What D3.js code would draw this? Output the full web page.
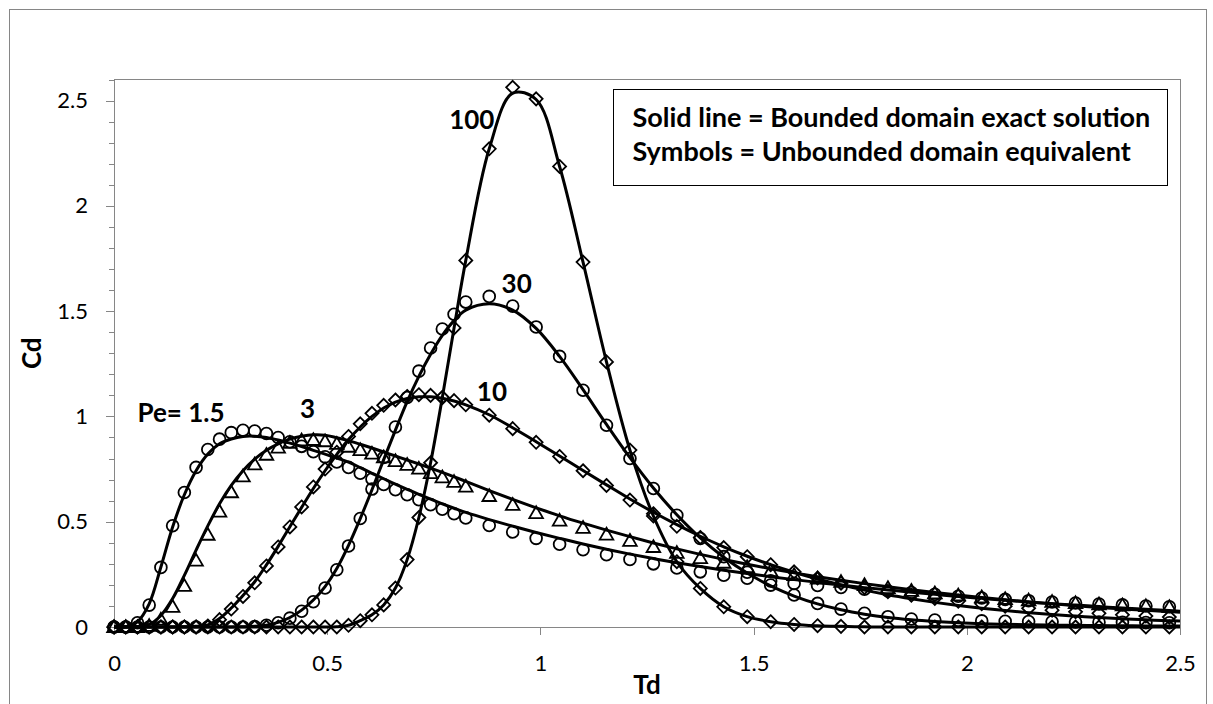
<!DOCTYPE html>
<html>
<head>
<meta charset="utf-8">
<script src="https://cdn.jsdelivr.net/npm/d3@7"></script>
<style>
body { margin:0; background:#fff; }
text { font-family: Lato, "Open Sans", sans-serif; }
.axis path, .axis line { stroke:#868686; stroke-width:1px; shape-rendering:crispEdges; }
.axis text { font-size:22px; fill:#000; font-family: Lato, "Open Sans", sans-serif; }
.curve-label { font-weight:bold; font-size:26px; fill:#000; }
.axis-title { font-weight:bold; font-size:26px; fill:#000; }
.legend-text { font-weight:bold; font-size:27px; fill:#000; }
.exact { fill:none; stroke:#000; stroke-width:3px; }
.symbol { fill:none; stroke:#000; stroke-width:1.8px; }
</style>
</head>
<body>
<script>
// DATA
var tdMarkers = [0, 0.0275, 0.055, 0.0825, 0.11, 0.1375, 0.165, 0.1925, 0.22, 0.2475, 0.275, 0.3025, 0.33, 0.3575, 0.385, 0.4125, 0.44, 0.4675, 0.495, 0.5225, 0.55, 0.5775, 0.605, 0.6325, 0.66, 0.6875, 0.715, 0.7425, 0.77, 0.7975, 0.825,
    0.88, 0.935, 0.99, 1.045, 1.1, 1.155, 1.21, 1.265, 1.32, 1.375, 1.43, 1.485, 1.54, 1.595, 1.65, 1.705, 1.76, 1.815, 1.87, 1.925, 1.98, 2.035, 2.09, 2.145, 2.2, 2.255, 2.31, 2.365, 2.42, 2.475]
var tdLine = [0, 0.0275, 0.055, 0.0825, 0.11, 0.1375, 0.165, 0.1925, 0.22, 0.2475, 0.275, 0.3025, 0.33, 0.3575, 0.385, 0.4125, 0.44, 0.4675, 0.495, 0.5225, 0.55, 0.5775, 0.605, 0.6325, 0.66, 0.6875, 0.715, 0.7425, 0.77, 0.7975, 0.825,
    0.88, 0.935, 0.99, 1.045, 1.1, 1.155, 1.21, 1.265, 1.32, 1.375, 1.43, 1.485, 1.54, 1.595, 1.65, 1.705, 1.76, 1.815, 1.87, 1.925, 1.98, 2.035, 2.09, 2.145, 2.2, 2.255, 2.31, 2.365, 2.42, 2.475, 2.5]

// Pe = 1.5
var pe15Marks = [0, 0, 0.02, 0.104, 0.283, 0.481, 0.639, 0.758, 0.843, 0.892, 0.923,
    0.934, 0.931, 0.919, 0.900, 0.880, 0.858, 0.832, 0.808, 0.784, 0.758,
    0.730, 0.703, 0.677, 0.652, 0.628, 0.604, 0.581, 0.559, 0.538, 0.518,
    0.482, 0.451, 0.421, 0.393, 0.367, 0.343, 0.321, 0.300, 0.280, 0.262,
    0.246, 0.232, 0.219, 0.207, 0.197, 0.188, 0.179, 0.171, 0.164, 0.155,
    0.146, 0.138, 0.131, 0.125, 0.119, 0.114, 0.109, 0.105, 0.100, 0.096]
var pe15Line = [0, 0.001, 0.025, 0.11, 0.285, 0.475, 0.628, 0.742, 0.821,
    0.870, 0.893, 0.905, 0.906, 0.900,
    0.888, 0.873, 0.857, 0.839, 0.821, 0.802, 0.783, 0.757, 0.730, 0.704, 0.678, 0.654, 0.630, 0.607, 0.585, 0.564, 0.544,
    0.510, 0.479, 0.449, 0.421, 0.394, 0.369, 0.346, 0.325, 0.305, 0.287,
    0.270, 0.254, 0.239, 0.225, 0.212, 0.199, 0.187, 0.176, 0.165, 0.155,
    0.145, 0.136, 0.127, 0.119, 0.111, 0.104, 0.097, 0.090, 0.084, 0.078, 0.075]

// Pe = 3
var pe3Marks = [0, 0, 0, 0.005, 0.035, 0.096, 0.195, 0.315, 0.438, 0.548, 0.640,
    0.715, 0.772, 0.818, 0.852, 0.874, 0.886, 0.888, 0.882, 0.870, 0.856,
    0.840, 0.823, 0.806, 0.788, 0.770, 0.752, 0.731, 0.711, 0.689, 0.667,
    0.622, 0.580, 0.541, 0.505, 0.471, 0.439, 0.409, 0.380, 0.352, 0.327,
    0.305, 0.284, 0.265, 0.247, 0.230, 0.214, 0.199, 0.185, 0.172, 0.160,
    0.150, 0.141, 0.133, 0.126, 0.119, 0.113, 0.108, 0.103, 0.099, 0.095]
var pe3Line = [0, 0, 0.002, 0.012, 0.055, 0.135, 0.245, 0.365, 0.480, 0.585, 0.672,
    0.742, 0.797, 0.839, 0.870, 0.892, 0.906, 0.913, 0.911, 0.899, 0.885,
    0.868, 0.850, 0.831, 0.812, 0.793, 0.774, 0.754, 0.734, 0.713, 0.692,
    0.648, 0.606, 0.566, 0.528, 0.493, 0.460, 0.429, 0.399, 0.371, 0.345,
    0.321, 0.298, 0.277, 0.257, 0.239, 0.222, 0.206, 0.191, 0.177, 0.164,
    0.152, 0.140, 0.129, 0.119, 0.110, 0.101, 0.093, 0.086, 0.079, 0.073, 0.070]

// Pe = 10
var pe10Marks = [0, 0, 0, 0, 0, 0, 0, 0, 0.005, 0.035, 0.085,
    0.145, 0.21, 0.29, 0.38, 0.475, 0.57, 0.665, 0.75, 0.83, 0.905,
    0.965, 1.015, 1.053, 1.078, 1.095, 1.103, 1.100, 1.090, 1.075, 1.055,
    1.006, 0.942, 0.877, 0.810, 0.742, 0.672, 0.603, 0.538, 0.478, 0.425,
    0.377, 0.334, 0.296, 0.262, 0.233, 0.208, 0.187, 0.168, 0.151, 0.136,
    0.122, 0.110, 0.099, 0.089, 0.080, 0.072, 0.065, 0.058, 0.052, 0.047]
var pe10Line = [0, 0, 0, 0, 0, 0, 0.001, 0.003, 0.01, 0.04, 0.09,
    0.15, 0.215, 0.295, 0.383, 0.476, 0.568, 0.658, 0.742, 0.82, 0.89,
    0.95, 1.0, 1.04, 1.068, 1.085, 1.093, 1.093, 1.086, 1.073, 1.055,
    1.008, 0.946, 0.880, 0.812, 0.743, 0.675, 0.608, 0.545, 0.486, 0.431,
    0.381, 0.336, 0.296, 0.260, 0.228, 0.200, 0.175, 0.153, 0.134, 0.117,
    0.102, 0.089, 0.078, 0.068, 0.059, 0.052, 0.045, 0.039, 0.034, 0.030, 0.028]

// Pe = 30
var pe30Marks = [0, 0, 0, 0, 0, 0, 0, 0, 0, 0, 0,
    0, 0.002, 0.008, 0.02, 0.042, 0.075, 0.12, 0.185, 0.272, 0.385,
    0.515, 0.655, 0.805, 0.950, 1.09, 1.215, 1.325, 1.415, 1.485, 1.543,
    1.570, 1.524, 1.425, 1.285, 1.124, 0.958, 0.800, 0.658, 0.531, 0.420,
    0.334, 0.260, 0.199, 0.152, 0.112, 0.085, 0.065, 0.049, 0.038, 0.033,
    0.031, 0.029, 0.027, 0.026, 0.025, 0.024, 0.023, 0.022, 0.021, 0.020]
var pe30Line = [0, 0, 0, 0, 0, 0, 0, 0, 0, 0, 0,
    0.001, 0.003, 0.009, 0.022, 0.045, 0.08, 0.128, 0.192, 0.278, 0.388,
    0.515, 0.652, 0.795, 0.935, 1.07, 1.19, 1.295, 1.385, 1.455, 1.505,
    1.535, 1.505, 1.418, 1.285, 1.127, 0.962, 0.804, 0.660, 0.533, 0.423,
    0.331, 0.256, 0.195, 0.147, 0.110, 0.082, 0.061, 0.045, 0.034, 0.026,
    0.020, 0.016, 0.013, 0.011, 0.009, 0.008, 0.007, 0.006, 0.005, 0.005, 0.005]

// Pe = 100
var pe100Marks = [0, 0, 0, 0, 0, 0, 0, 0, 0, 0, 0,
    0, 0, 0, 0, 0, 0, 0, 0, 0, 0.008,
    0.03, 0.058, 0.105, 0.185, 0.32, 0.52, 0.78, 1.09, 1.42, 1.741,
    2.271, 2.563, 2.508, 2.187, 1.733, 1.259, 0.84, 0.527, 0.31, 0.183,
    0.096, 0.049, 0.025, 0.012, 0.006, 0.003, 0, 0, 0, 0,
    0, 0, 0, 0, 0, 0, 0, 0, 0, 0]
var pe100Line = [0, 0, 0, 0, 0, 0, 0, 0, 0, 0, 0,
    0, 0, 0, 0, 0, 0, 0, 0, 0.001, 0.008,
    0.03, 0.058, 0.105, 0.185, 0.32, 0.52, 0.78, 1.09, 1.42, 1.741,
    2.271, 2.535, 2.505, 2.187, 1.733, 1.259, 0.84, 0.527, 0.31, 0.183,
    0.096, 0.049, 0.025, 0.012, 0.006, 0.003, 0.001, 0, 0, 0,
    0, 0, 0, 0, 0, 0, 0, 0, 0, 0, 0]

var xTicks = [0, 0.5, 1, 1.5, 2, 2.5]
var yTicks = [0, 0.5, 1, 1.5, 2, 2.5]
var yMinorTicks = [0, 0.1, 0.2, 0.3, 0.4, 0.5, 0.6, 0.7, 0.8, 0.9, 1, 1.1, 1.2, 1.3, 1.4, 1.5, 1.6, 1.7, 1.8, 1.9, 2, 2.1, 2.2, 2.3, 2.4, 2.5, 2.6]

var curveLabels = [
    {text:"Pe= 1.5", td:0.055, cd:0.972},
    {text:"3", td:0.436, cd:0.991},
    {text:"10", td:0.851, cd:1.073},
    {text:"30", td:0.909, cd:1.584},
    {text:"100", td:0.786, cd:2.367}
]
var legendLines = ["Solid line = Bounded domain exact solution", "Symbols = Unbounded domain equivalent"]

var series = [
    {line:pe15Line, marks:pe15Marks, shape:"circle"},
    {line:pe3Line, marks:pe3Marks, shape:"triangle"},
    {line:pe10Line, marks:pe10Marks, shape:"diamond"},
    {line:pe30Line, marks:pe30Marks, shape:"circle"},
    {line:pe100Line, marks:pe100Marks, shape:"diamond"}
]

// LAYOUT
var width = 1213
var height = 704
var plot = {left:114, right:1180, top:79.5, bottom:627}

var x = d3.scaleLinear().domain([0, 2.5]).range([plot.left, plot.right])
var y = d3.scaleLinear().domain([0, 2.6]).range([plot.bottom, plot.top])

var svg = d3.select("body").append("svg")
    .attr("width", width)
    .attr("height", height)

// OUTER BORDER
svg.append("rect")
    .attr("x", 9.5)
    .attr("y", 9.5)
    .attr("width", 1197)
    .attr("height", 702)
    .attr("fill", "#fff")
    .attr("stroke", "#868686")

// PLOT AREA
svg.append("rect")
    .attr("x", plot.left)
    .attr("y", plot.top)
    .attr("width", plot.right - plot.left)
    .attr("height", plot.bottom - plot.top)
    .attr("fill", "none")
    .attr("stroke", "#868686")
    .attr("shape-rendering", "crispEdges")

// AXES
svg.append("g").attr("class", "axis")
    .attr("transform", "translate(" + plot.left + ",0)")
    .call(d3.axisLeft(y).tickValues(yMinorTicks).tickSize(5).tickSizeOuter(0).tickFormat(""))
svg.append("g").attr("class", "axis")
    .attr("transform", "translate(" + plot.left + ",0)")
    .call(d3.axisLeft(y).tickValues(yTicks).tickSize(8).tickSizeOuter(0).tickPadding(18).tickFormat(d3.format("")))
svg.append("g").attr("class", "axis")
    .attr("transform", "translate(0," + plot.bottom + ")")
    .call(d3.axisBottom(x).tickValues(xTicks).tickSize(8).tickSizeOuter(0).tickPadding(20).tickFormat(d3.format("")))

// AXIS TITLES
svg.append("text")
    .attr("class", "axis-title")
    .attr("text-anchor", "middle")
    .attr("x", (plot.left + plot.right) / 2)
    .attr("y", 694)
    .text("Td")
svg.append("text")
    .attr("class", "axis-title")
    .attr("text-anchor", "middle")
    .attr("transform", "translate(41," + (plot.top + plot.bottom) / 2 + ") rotate(-90)")
    .text("Cd")

// SYMBOLS (unbounded domain)
var shapes = {
    circle: d3.symbol().type(d3.symbolCircle).size(Math.PI * 5.9 * 5.9)(),
    diamond: "M0,-6.5L6.5,0L0,6.5L-6.5,0Z",
    triangle: "M0,-6.8L6.8,5L-6.8,5Z"
}
series.forEach(function(s) {
    svg.append("g").selectAll("path")
        .data(s.marks)
        .enter().append("path")
        .attr("class", "symbol")
        .attr("d", shapes[s.shape])
        .attr("transform", function(d, i) { return "translate(" + x(tdMarkers[i]) + "," + y(d) + ")" })
})

// SOLID LINES (bounded domain)
var line = d3.line()
    .x(function(d, i) { return x(tdLine[i]) })
    .y(function(d) { return y(d) })
    .curve(d3.curveCatmullRom.alpha(0.5))
series.forEach(function(s) {
    svg.append("path")
        .attr("class", "exact")
        .attr("d", line(s.line))
})

// CURVE LABELS
svg.append("g").selectAll("text")
    .data(curveLabels)
    .enter().append("text")
    .attr("class", "curve-label")
    .attr("x", function(d) { return x(d.td) })
    .attr("y", function(d) { return y(d.cd) })
    .text(function(d) { return d.text })

// LEGEND BOX
var legend = svg.append("g")
legend.append("rect")
    .attr("x", 613.5)
    .attr("y", 89.5)
    .attr("width", 554)
    .attr("height", 96)
    .attr("fill", "#fff")
    .attr("stroke", "#000")
legend.selectAll("text")
    .data(legendLines)
    .enter().append("text")
    .attr("class", "legend-text")
    .attr("x", 632.5)
    .attr("y", function(d, i) { return 127 + i * 34 })
    .text(function(d) { return d })
</script>
</body>
</html>
